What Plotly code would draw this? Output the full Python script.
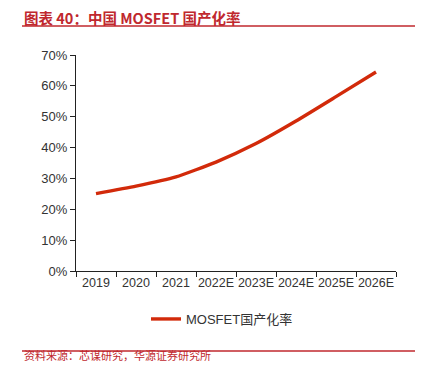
import plotly.graph_objects as go

categories = ["2019", "2020", "2021", "2022E", "2023E", "2024E", "2025E", "2026E"]
rates = [0.251, 0.275, 0.305, 0.353, 0.413, 0.486, 0.565, 0.645]
series_name = "MOSFET国产化率"
y_ticks = [0, 0.1, 0.2, 0.3, 0.4, 0.5, 0.6, 0.7]
title_text = "图表 40：中国 MOSFET 国产化率"
source_text = "资料来源：芯谋研究，华源证券研究所"

RED = "#C0282E"
LINE = "#D22A0A"
OFF = 8  # page body margin offset
W, H = 423 - OFF, 365 - OFF
L, R, T, B = 76 - OFF, 27, 55 - OFF, 94
ph = H - T - B
pw = W - L - R

def px_x(x):  # x in page pixels
    return (x - OFF - L) / pw

def px_y(y):  # y in page pixels
    return (H - B - (y - OFF)) / ph

fig = go.Figure()
fig.add_trace(go.Scatter(
    x=categories, y=rates, mode="lines", name=series_name,
    line=dict(color=LINE, width=3.4, shape="spline", smoothing=0.5),
))

fig.update_layout(
    width=W, height=H,
    margin=dict(l=L, r=R, t=T, b=B, autoexpand=False),
    paper_bgcolor="white", plot_bgcolor="white",
    font=dict(family="Liberation Sans, Arial, Noto Sans CJK SC", size=13, color="#333333"),
    showlegend=True,
    legend=dict(orientation="h", x=px_x(222), xanchor="center", y=px_y(319), yanchor="middle",
                font=dict(size=13, color="#333333", family="Liberation Sans, Noto Sans CJK SC"),
                itemwidth=30),
    xaxis=dict(
        type="category", range=[-0.5, 7.5], showgrid=False,
        showline=True, linecolor="#222222", linewidth=1,
        ticks="outside", ticklen=5, tickcolor="#222222", tickson="boundaries",
        tickangle=0, automargin=False,
        tickfont=dict(size=12.5, color="#333333"),
    ),
    yaxis=dict(
        range=[0, 0.7], tickvals=y_ticks, tickformat=".0%", showgrid=False,
        showline=True, linecolor="#222222", linewidth=1, zeroline=False,
        ticks="outside", ticklen=5, tickcolor="#222222", automargin=False,
        tickfont=dict(size=13, color="#333333"),
    ),
    shapes=[
        dict(type="line", xref="paper", yref="paper",
             x0=px_x(22), x1=px_x(421), y0=px_y(26), y1=px_y(26),
             line=dict(color=RED, width=1.5)),
        dict(type="line", xref="paper", yref="paper",
             x0=px_x(22), x1=px_x(421), y0=px_y(351), y1=px_y(351),
             line=dict(color=RED, width=1.5)),
    ],
    annotations=[
        dict(text="<b>" + title_text + "</b>", xref="paper", yref="paper",
             x=px_x(22), y=px_y(8), xanchor="left", yanchor="top", yshift=3, showarrow=False,
             font=dict(size=14.5, color=RED, family="Noto Sans CJK SC")),
        dict(text=source_text, xref="paper", yref="paper",
             x=px_x(22), y=px_y(365), xanchor="left", yanchor="bottom", showarrow=False,
             font=dict(size=11, color=RED, family="Noto Sans CJK SC")),
    ],
)

fig.write_html("out.html")
